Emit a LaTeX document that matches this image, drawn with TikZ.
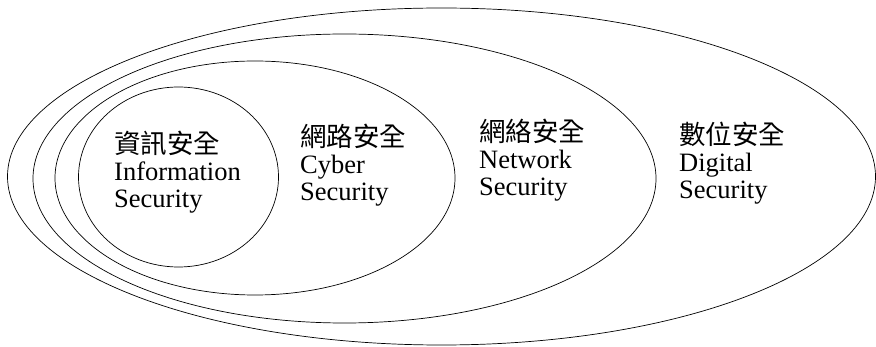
\documentclass[tikz,border=0pt]{standalone}
\usepackage{fontspec}
\setmainfont{Liberation Serif}
\newfontfamily\cjk{Noto Sans CJK TC}
\usetikzlibrary{shapes.geometric, positioning}

\begin{document}
\begin{tikzpicture}[x=1pt, y=-1pt,
      ring/.style={ellipse, draw, line width=0.7pt, inner sep=0pt},
      tag/.style={anchor=north west, align=left, inner sep=0pt,
          font=\fontsize{26.5}{27}\selectfont}]
    \useasboundingbox (0,0) rectangle (876,347);
    % nested areas, innermost first
    \node[ring, minimum width=200pt, minimum height=180pt] (info) at (178.5,177) {};
    \node[ring, minimum width=400pt, minimum height=234pt] (cyber) at (255,178) {};
    \node[ring, minimum width=623pt, minimum height=289pt] (network) at (344.5,178.5) {};
    \node[ring, minimum width=868pt, minimum height=337pt] (digital) at (441.5,176.5) {};
    % names
    \node[tag] (infotext) at (114,131) {{\cjk 資訊安全}\\Information\\Security};
    \node[tag] (cybertext) at (300,124) {{\cjk 網路安全}\\Cyber\\Security};
    \node[tag] (networktext) at (479,119) {{\cjk 網絡安全}\\Network\\Security};
    \node[tag] (digitaltext) at (679,122) {{\cjk 數位安全}\\Digital\\Security};
  \end{tikzpicture}
\end{document}
